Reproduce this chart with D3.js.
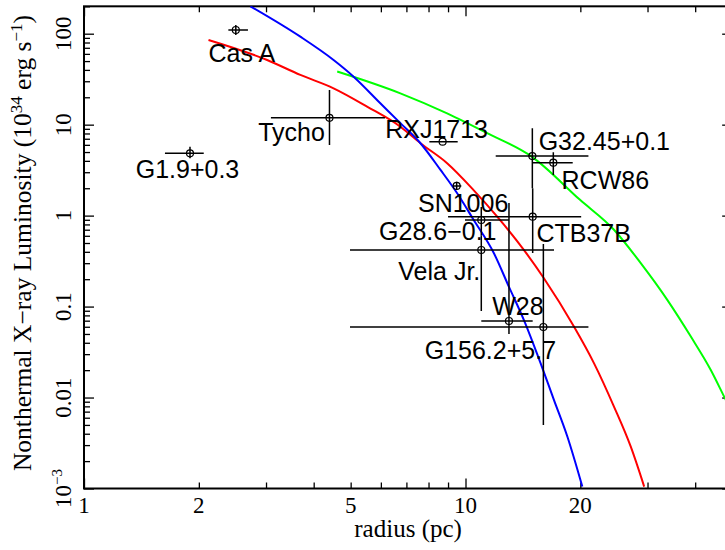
<!DOCTYPE html>
<html><head><meta charset="utf-8">
<script src="https://cdn.jsdelivr.net/npm/d3@7"></script>
<style>
html,body{margin:0;padding:0;background:#fff;}
svg{display:block;}
</style></head>
<body>
<script>
// ---------- data ----------
const categories = ["Cas A","Tycho","RXJ1713","G32.45+0.1","RCW86","G1.9+0.3","SN1006","G28.6\u22120.1","CTB37B","Vela Jr.","W28","G156.2+5.7"];
const radius   = [2.50, 4.40, 8.71, 14.97, 16.99, 1.896, 9.48, 11.0, 15.0, 11.0, 13.0, 16.0];
const radiusLo = [2.39, 3.09, 8.04, 12.0, 15.03, 1.63, 9.26, 9.97, 9.0, 4.98, 11.0, 4.98];
const radiusHi = [2.69, 6.15, 9.54, 21.0, 19.1, 2.06, 9.75, 13.0, 20.1, 17.06, 15.0, 21.0];
const lumin    = [109.8, 11.9, 6.50, 4.52, 3.82, 4.84, 2.12, 0.895, 0.973, 0.419, 0.0694, 0.0596];
const luminLo  = [96.7, 5.97, 6.50, 2.0, 2.80, 4.27, 1.92, 0.6, 0.388, 0.0894, 0.05, 0.00499];
const luminHi  = [124.6, 24.0, 6.50, 9.12, 4.97, 5.72, 2.35, 1.244, 2.0, 0.6, 1.376, 0.487];

const blueR = [2.73, 3.69, 4.51, 5.09, 5.98, 6.75, 7.62, 8.60, 9.51, 10.5, 11.87, 12.99, 14.22, 15.73, 17.05, 18.49, 20.24];
const blueL = [200, 92.7, 51.4, 33.7, 17.2, 10.4, 6.25, 3.18, 1.76, 0.90, 0.386, 0.166, 0.0714, 0.0239, 0.00944, 0.00373, 0.00105];
const redR  = [2.12, 3.02, 3.69, 4.51, 5.52, 6.75, 7.62, 8.95, 10.5, 12.11, 14.22, 16.05, 19.24, 21.71, 24.5, 27.1, 29.4];
const redL  = [85.3, 51.4, 35.2, 25.1, 15.8, 9.5, 6.25, 3.77, 1.91, 0.975, 0.42, 0.205, 0.0603, 0.0239, 0.00796, 0.0029, 0.00105];
const greenR = [4.61, 6.75, 8.95, 11.4, 14.97, 19.96, 24.5, 28.8, 33.8, 38.96, 43.95, 47.6, 50];
const greenL = [38.4, 22.1, 13.3, 8.05, 4.4, 1.49, 0.70, 0.30, 0.1185, 0.0468, 0.0201, 0.0103, 0.0068];

const xTickLabels = [1, 2, 5, 10, 20];
const yTickLabels = [0.001, 0.01, 0.1, 1, 10, 100];
const yTickText   = ["10\u22123", "0.01", "0.1", "1", "10", "100"];

// ---------- layout ----------
const W = 725, H = 550;
const X0 = 84, PX_PER_DEC_X = 381.5;
const YB = 488.5, PX_PER_DEC_Y = 90.96;
const x = d3.scaleLog().domain([1, 50]).range([X0, X0 + Math.log10(50) * PX_PER_DEC_X]);
const y = d3.scaleLog().domain([1e-3, 200]).range([YB, YB - Math.log10(200 / 1e-3) * PX_PER_DEC_Y]);
const [xl, xr] = x.range(), [yb, yt] = y.range();

// label offsets (pixels from the data point to label centre/baseline)
const labelOffset = [[6,32],[-38,23.5],[-6,-3.5],[72,-6],[52,26.5],[-2.5,25],[6.5,26.5],[-43.5,20],[51,25],[-42,30],[9,-6],[-53,31.5]];

const SANS = "'Liberation Sans', Arial, Helvetica, sans-serif";
const SERIF = "'Liberation Serif', 'Times New Roman', Times, serif";

const svg = d3.select("body").append("svg").attr("width", W).attr("height", H);

svg.append("defs").append("clipPath").attr("id", "clip")
  .append("rect").attr("x", xl).attr("y", yt).attr("width", xr - xl).attr("height", yb - yt);

// ---------- axes ticks ----------
const minorX = [], majorX = [];
for (let d = 1; d <= 10; d *= 10) for (let k = 1; k <= 9; k++) { const v = k * d; if (v > 50) break; (k === 1 ? majorX : minorX).push(v); }
const minorY = [], majorY = [];
for (let e = -3; e <= 2; e++) for (let k = 1; k <= 9; k++) { const v = k * Math.pow(10, e); if (v > 200) break; (k === 1 ? majorY : minorY).push(v); }

function tickAxis(axisGen, scale, vals, size, transform) {
  const g = svg.append("g").attr("transform", transform)
    .call(axisGen(scale).tickValues(vals).tickSize(size).tickFormat(""));
  g.select(".domain").remove();
  g.selectAll("line").attr("stroke", "#000").attr("stroke-width", 1.3);
}
tickAxis(d3.axisBottom, x, minorX, -6, `translate(0,${yb})`);
tickAxis(d3.axisBottom, x, majorX, -10, `translate(0,${yb})`);
tickAxis(d3.axisTop, x, minorX, -6, `translate(0,${yt})`);
tickAxis(d3.axisTop, x, majorX, -10, `translate(0,${yt})`);
tickAxis(d3.axisLeft, y, minorY, -6, `translate(${xl},0)`);
tickAxis(d3.axisLeft, y, majorY, -10, `translate(${xl},0)`);
tickAxis(d3.axisRight, y, minorY, -6, `translate(${xr},0)`);
tickAxis(d3.axisRight, y, majorY, -10, `translate(${xr},0)`);

// frame
svg.append("rect").attr("x", xl).attr("y", yt).attr("width", xr - xl).attr("height", yb - yt)
  .attr("fill", "none").attr("stroke", "#000").attr("stroke-width", 2);

// tick labels
svg.append("g").selectAll("text").data(xTickLabels).join("text")
  .attr("x", d => x(d)).attr("y", yb + 24)
  .attr("text-anchor", "middle").attr("font-family", SERIF).attr("font-size", 23)
  .text(d => d);

const yl = svg.append("g").selectAll("text").data(yTickLabels).join("text")
  .attr("transform", d => `translate(71,${y(d)}) rotate(-90)`)
  .attr("text-anchor", "middle").attr("font-family", SERIF).attr("font-size", 23);
yl.each(function(d, i) {
  const t = d3.select(this);
  if (i === 0) {
    t.append("tspan").text("10");
    t.append("tspan").attr("dy", -9).attr("font-size", 15).text("\u22123");
  } else t.text(yTickText[i]);
});

// axis titles
svg.append("text").attr("x", (xl + xr) / 2).attr("y", 537)
  .attr("text-anchor", "middle").attr("font-family", SERIF).attr("font-size", 25)
  .text("radius (pc)");

const yt1 = svg.append("text").attr("transform", `translate(31,${243}) rotate(-90)`)
  .attr("text-anchor", "middle").attr("font-family", SERIF).attr("font-size", 25.5);
yt1.append("tspan").text("Nonthermal X\u2212ray Luminosity (10");
yt1.append("tspan").attr("dy", -9).attr("font-size", 17).text("34");
yt1.append("tspan").attr("dy", 9).text(" erg s");
yt1.append("tspan").attr("dy", -9).attr("font-size", 17).text("\u22121");
yt1.append("tspan").attr("dy", 9).text(")");

// ---------- curves ----------
const plot = svg.append("g").attr("clip-path", "url(#clip)");
const line = d3.line().x(d => x(d[0])).y(d => y(d[1])).curve(d3.curveMonotoneX);
[[greenR, greenL, "#00ff00"], [redR, redL, "#ff0000"], [blueR, blueL, "#0000ff"]].forEach(([rs, ls, c]) => {
  plot.append("path").datum(rs.map((r, i) => [r, ls[i]]))
    .attr("d", line).attr("fill", "none").attr("stroke", c).attr("stroke-width", 2);
});

// ---------- error bars & points ----------
const idx = d3.range(categories.length);
const eb = plot.append("g").attr("stroke", "#000").attr("stroke-width", 1.5);
eb.selectAll("line.h").data(idx).join("line").attr("class", "h")
  .attr("x1", i => x(radiusLo[i])).attr("x2", i => x(radiusHi[i]))
  .attr("y1", i => y(lumin[i])).attr("y2", i => y(lumin[i]));
eb.selectAll("line.v").data(idx.filter(i => luminLo[i] !== luminHi[i])).join("line").attr("class", "v")
  .attr("x1", i => x(radius[i])).attr("x2", i => x(radius[i]))
  .attr("y1", i => y(luminLo[i])).attr("y2", i => y(luminHi[i]));
plot.append("g").selectAll("circle").data(idx).join("circle")
  .attr("cx", i => x(radius[i])).attr("cy", i => y(lumin[i])).attr("r", 3.5)
  .attr("fill", "none").attr("stroke", "#000").attr("stroke-width", 1.2);

// labels
svg.append("g").selectAll("text").data(idx).join("text")
  .attr("x", i => x(radius[i]) + labelOffset[i][0])
  .attr("y", i => y(lumin[i]) + labelOffset[i][1])
  .attr("text-anchor", "middle").attr("font-family", SANS).attr("font-size", 25)
  .attr("fill", "#000")
  .text(i => categories[i]);
</script>
</body></html>
